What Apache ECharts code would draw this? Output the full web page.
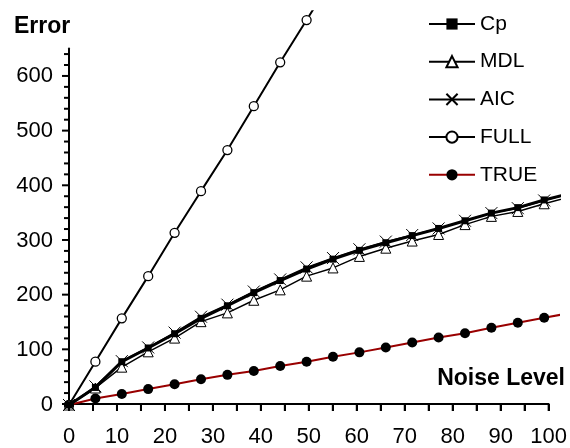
<!DOCTYPE html>
<html>
<head>
<meta charset="utf-8">
<script src="https://cdn.jsdelivr.net/npm/echarts@6/dist/echarts.min.js"></script>
<style>
html,body{margin:0;padding:0;background:#fff;}
#chart{width:570px;height:448px;}
</style>
</head>
<body>
<div id="chart"></div>
<script>
// ---- data ----
var noiseLevels = [0, 5.5, 11, 16.5, 22, 27.5, 33, 38.5, 44, 49.5, 55, 60.5, 66, 71.5, 77, 82.5, 88, 93.5, 99, 104.5];
var cpValues    = [0, 32, 79, 104, 130, 158, 181, 205, 227, 248, 266, 282, 296, 309, 322, 336, 350, 360, 374, 386];
var mdlValues   = [0, 31, 69, 97, 122, 152, 168, 191, 210, 235, 250, 271, 286, 299, 311, 329, 344, 353, 367, 380];
var aicValues   = [0, 34, 80, 105, 132, 161, 183, 207, 229, 251, 268, 284, 298, 310, 322, 336, 350, 359, 373, 386];
var fullValues  = [0, 79, 158, 235, 314, 390, 465, 545, 625, 702, 780, 858, 936, 1014, 1092, 1170, 1248, 1326, 1404, 1482];
var trueValues  = [0, 12, 20, 29, 38, 47, 55, 62, 71, 79, 88, 96, 105, 114, 123, 131, 141, 150, 159, 168];
var seriesNames = ['Cp', 'MDL', 'AIC', 'FULL', 'TRUE'];
// tick values
var xTickValues  = [0, 5, 10, 15, 20, 25, 30, 35, 40, 45, 50, 55, 60, 65, 70, 75, 80, 85, 90, 95, 100];
var yMajorTicks  = [0, 100, 200, 300, 400, 500, 600];
var yMinorTicks  = [20, 40, 60, 80, 120, 140, 160, 180, 220, 240, 260, 280, 320, 340, 360, 380, 420, 440, 460, 480, 520, 540, 560, 580, 620, 640];
var xMax = 100, xLabelStep = 10;
var yAxisTop = 650, yLabelMax = 600, yLabelStep = 100;

function pairs(ys) { return noiseLevels.map(function (x, i) { return [x, ys[i]]; }); }

var FONT = 'Liberation Sans, Arial, sans-serif';
var chart = echarts.init(document.getElementById('chart'), null, {renderer: 'canvas'});

// layout: y=0 at pixel 405, 0.5483 px per unit
var Y0 = 405, YS = 0.5483;
function topFor(v) { return Y0 - v * YS; }

var crossPath = 'path://M0,0L10,10M0,10L10,0';

chart.setOption({
  animation: false,
  backgroundColor: '#fff',
  textStyle: {fontFamily: FONT},
  title: [
    {text: 'Error', left: 9, top: 10, textStyle: {fontFamily: FONT, fontSize: 23, fontWeight: 'bold', color: '#000'}},
    {text: 'Noise Level', right: 0, top: 362, textStyle: {fontFamily: FONT, fontSize: 23, fontWeight: 'bold', color: '#000'}}
  ],
  legend: {
    orient: 'vertical',
    left: 428, top: 13.5,
    padding: 0,
    itemWidth: 46, itemHeight: 14, itemGap: 16.7,
    textStyle: {fontFamily: FONT, fontSize: 21, color: '#000'},
    data: seriesNames
  },
  grid: [
    {left: 69, right: 11.4, top: topFor(718), bottom: 43},
    {left: 69, right: 21, top: topFor(yAxisTop), bottom: 43},
    {left: 69, right: 21, top: topFor(yLabelMax), bottom: 43}
  ],
  xAxis: [
    {gridIndex: 0, type: 'value', min: 0, max: 102, show: false},
    {gridIndex: 1, type: 'value', min: 0, max: xMax, interval: 5,
      axisLine: {show: true, lineStyle: {color: '#000', width: 2}},
      axisTick: {show: true, length: 7, lineStyle: {color: '#000', width: 2}},
      axisLabel: {show: true, margin: 22, fontSize: 22, color: '#000', fontFamily: FONT,
        formatter: function (v) { return v % xLabelStep === 0 ? String(v) : ''; }},
      splitLine: {show: false}},
    {gridIndex: 2, type: 'value', min: 0, max: xMax, show: false}
  ],
  yAxis: [
    {gridIndex: 0, type: 'value', min: 0, max: 718, show: false},
    {gridIndex: 1, type: 'value', min: 0, max: yAxisTop,
      axisLine: {show: true, lineStyle: {color: '#000', width: 2}},
      axisTick: {show: false}, axisLabel: {show: false}, splitLine: {show: false}},
    {gridIndex: 2, type: 'value', min: 0, max: yLabelMax, interval: yLabelStep,
      axisLine: {show: false},
      axisTick: {show: false},
      axisLabel: {show: true, margin: 16, fontSize: 22, color: '#000', fontFamily: FONT},
      splitLine: {show: false}}
  ],
  series: [
    {name: 'FULL', type: 'line', xAxisIndex: 0, yAxisIndex: 0, data: pairs(fullValues),
      symbol: 'circle', symbolSize: 9,
      lineStyle: {color: '#000', width: 2},
      itemStyle: {color: '#fff', borderColor: '#000', borderWidth: 1.3}},
    {name: 'TRUE', type: 'line', xAxisIndex: 0, yAxisIndex: 0, data: pairs(trueValues),
      symbol: 'circle', symbolSize: 10,
      lineStyle: {color: '#990000', width: 2},
      itemStyle: {color: '#000', borderColor: '#000', borderWidth: 0}},
    {name: 'MDL', type: 'line', xAxisIndex: 0, yAxisIndex: 0, data: pairs(mdlValues),
      symbol: 'triangle', symbolSize: 10,
      lineStyle: {color: '#000', width: 1.5},
      itemStyle: {color: '#fff', borderColor: '#000', borderWidth: 1}},
    {name: 'AIC', type: 'line', xAxisIndex: 0, yAxisIndex: 0, data: pairs(aicValues),
      symbol: crossPath, symbolSize: 12,
      lineStyle: {color: '#000', width: 1.5},
      itemStyle: {color: '#000', borderColor: '#000', borderWidth: 1}},
    {name: 'Cp', type: 'line', xAxisIndex: 0, yAxisIndex: 0, data: pairs(cpValues),
      symbol: 'rect', symbolSize: 7,
      lineStyle: {color: '#000', width: 3},
      itemStyle: {color: '#000', borderColor: '#000', borderWidth: 0}}
  ]
});

// tick marks: positions come from the chart's own scale (convertToPixel)
var tickEls = [];
function tickLine(x1, y1, x2, y2) {
  return {type: 'line', silent: true, z: 100,
    shape: {x1: x1, y1: y1, x2: x2, y2: y2},
    style: {stroke: '#000', lineWidth: 2}};
}
xTickValues.forEach(function (v) {
  var p = chart.convertToPixel({xAxisIndex: 1, yAxisIndex: 1}, [v, 0]);
  if (p) tickEls.push(tickLine(p[0], p[1], p[0], p[1] + 7));
});
yMajorTicks.forEach(function (v) {
  var p = chart.convertToPixel({xAxisIndex: 1, yAxisIndex: 1}, [0, v]);
  if (p) tickEls.push(tickLine(p[0] - 7, p[1], p[0], p[1]));
});
yMinorTicks.forEach(function (v) {
  var p = chart.convertToPixel({xAxisIndex: 1, yAxisIndex: 1}, [0, v]);
  if (p) tickEls.push(tickLine(p[0] - 5, p[1], p[0], p[1]));
});
chart.setOption({graphic: {elements: tickEls}});
</script>
</body>
</html>
